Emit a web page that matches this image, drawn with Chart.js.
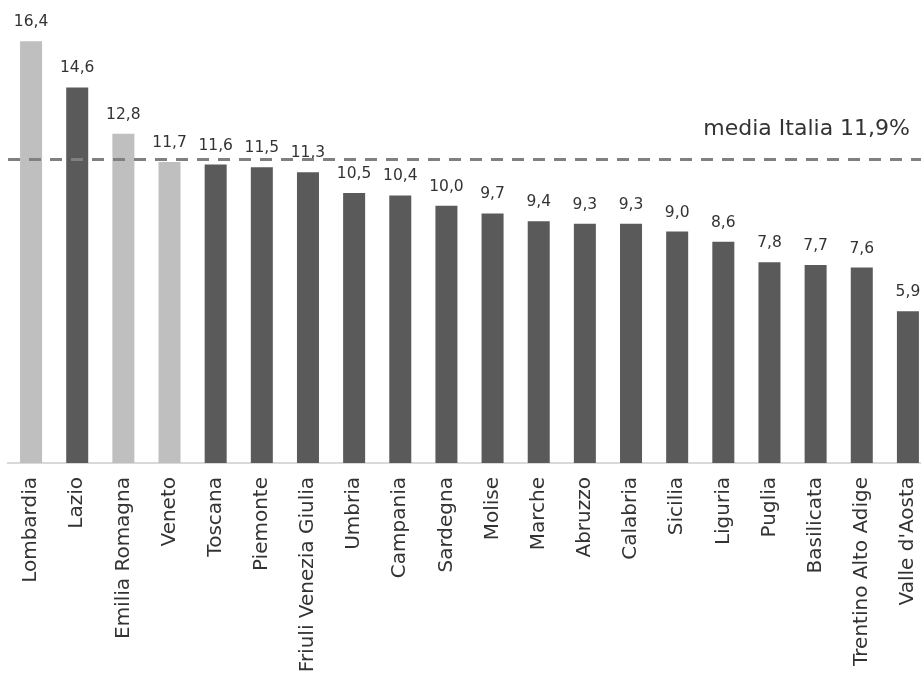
<!DOCTYPE html>
<html>
<head>
<meta charset="utf-8">
<script src="https://cdn.jsdelivr.net/npm/chart.js@4/dist/chart.umd.min.js"></script>
<style>
html,body{margin:0;padding:0;background:#fff;overflow:hidden;}
#wrap{width:931px;height:674px;}
</style>
</head>
<body>
<div id="wrap"><canvas id="c" width="931" height="674"></canvas></div>
<script>
const categories = ["Lombardia","Lazio","Emilia Romagna","Veneto","Toscana","Piemonte","Friuli Venezia Giulia","Umbria","Campania","Sardegna","Molise","Marche","Abruzzo","Calabria","Sicilia","Liguria","Puglia","Basilicata","Trentino Alto Adige","Valle d'Aosta"];
const values = [16.4,14.6,12.8,11.7,11.6,11.5,11.3,10.5,10.4,10.0,9.7,9.4,9.3,9.3,9.0,8.6,7.8,7.7,7.6,5.9];
const highlighted = ["Lombardia","Emilia Romagna","Veneto"];
const avgLinePosition = 11.8;
const avgLabel = "media Italia 11,9%";
const lightColor = "#bfbfbf";
const darkColor = "#5a5a5a";
const textColor = "#333333";
const FONT = "'DejaVu Sans', sans-serif";

const barColors = categories.map(c => highlighted.includes(c) ? lightColor : darkColor);

const overlay = {
  id: 'overlay',
  afterDatasetsDraw(chart) {
    const ctx = chart.ctx;
    const area = chart.chartArea;
    const ys = chart.scales.y;
    const meta = chart.getDatasetMeta(0);
    ctx.save();
    ctx.font = "15.5px " + FONT;
    ctx.fillStyle = textColor;
    ctx.textAlign = 'center';
    ctx.textBaseline = 'alphabetic';
    meta.data.forEach((bar, i) => {
      ctx.fillText(values[i].toFixed(1).replace('.', ','), bar.x, bar.y - 15);
    });
    const y = ys.getPixelForValue(avgLinePosition);
    ctx.strokeStyle = '#808080';
    ctx.lineWidth = 3;
    ctx.setLineDash([12, 9]);
    ctx.beginPath();
    ctx.moveTo(area.left, y);
    ctx.lineTo(area.right, y);
    ctx.stroke();
    ctx.setLineDash([]);
    ctx.font = "22px " + FONT;
    ctx.textAlign = 'right';
    ctx.fillStyle = textColor;
    ctx.fillText(avgLabel, 910, y - 24);
    ctx.restore();
  }
};

new Chart(document.getElementById('c'), {
  type: 'bar',
  data: {
    labels: categories,
    datasets: [{
      data: values,
      backgroundColor: barColors,
      borderWidth: 0,
      categoryPercentage: 1,
      barPercentage: 0.477
    }]
  },
  options: {
    responsive: false,
    animation: false,
    devicePixelRatio: 1,
    layout: { padding: { left: 8, right: 0, top: 0, bottom: 0 } },
    plugins: { legend: { display: false }, tooltip: { enabled: false } },
    scales: {
      y: { display: false, min: 0, max: 18 },
      x: {
        grid: { display: false, drawTicks: false },
        border: { display: true, color: '#d9d9d9', width: 2 },
        ticks: {
          minRotation: 90, maxRotation: 90, autoSkip: false,
          padding: 14, color: textColor,
          font: { family: FONT, size: 20 }
        },
        afterFit(scale) {
          scale.height = 674 - 463;
          scale.paddingLeft = 0;
          scale.paddingRight = 0;
        }
      }
    }
  },
  plugins: [overlay]
});
</script>
</body>
</html>
